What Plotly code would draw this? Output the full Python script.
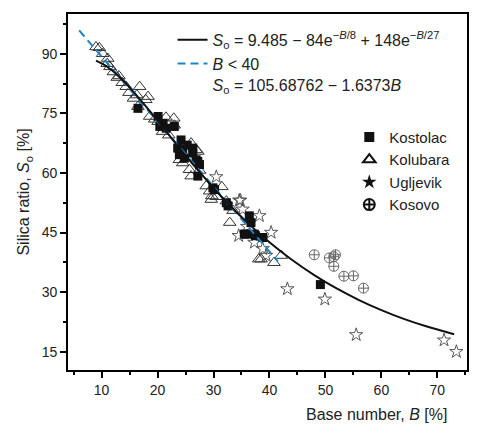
import plotly.graph_objects as go

# ---------------- data ----------------
kolubara_B = [9.0, 9.6, 10.2, 11.1, 11.5, 11.0, 12.1, 12.8, 13.1, 13.7, 14.4, 14.9, 15.7, 16.3,
              16.8, 17.9, 18.3, 16.5, 18.6, 19.5, 20.1, 20.9, 22.9, 23.0, 23.9, 24.5, 25.7, 26.0,
              26.0, 26.9, 27.2, 27.5, 28.7, 29.3, 29.6, 29.7, 30.5, 32.3, 32.9, 33.5, 38.1, 38.5,
              40.8, 42.1, 31.5, 22.0, 21.5]
kolubara_S = [91.7, 91.5, 90.0, 88.8, 86.7, 87.5, 85.4, 84.0, 84.4, 82.7, 81.7, 80.2, 78.75, 79.6,
              81.7, 78.4, 79.2, 76.7, 74.2, 73.5, 72.9, 70.4, 73.75, 72.0, 63.3, 62.5, 60.8, 59.2,
              67.5, 65.8, 65.4, 60.6, 56.7, 55.4, 53.3, 54.2, 54.0, 52.9, 47.5, 50.5, 38.3, 38.3,
              37.4, 39.2, 56.5, 69.5, 74.0]

kostolac_B = [16.5, 20.1, 20.4, 21.0, 21.55, 23.0, 23.6, 23.9, 24.2, 24.8, 26.3, 26.3, 26.9, 27.2,
              27.2, 27.5, 29.9, 30.2, 32.3, 32.6, 35.5, 35.8, 36.4, 36.7, 37.3, 37.5, 38.8, 49.1,
              24.5, 25.3]
kostolac_S = [76.25, 74.2, 71.7, 72.5, 71.25, 71.7, 66.25, 64.6, 68.3, 63.75, 66.25, 65.0, 63.3, 62.9,
              59.2, 62.1, 56.25, 55.8, 52.5, 51.7, 44.6, 44.6, 49.2, 47.5, 44.6, 44.2, 43.75, 31.9,
              66.0, 67.0]

ugljevik_B = [30.5, 34.6, 34.8, 35.2, 34.5, 37.3, 38.2, 38.8, 39.4, 40.3, 43.2, 49.9, 55.5, 71.2,
              73.4, 36.0]
ugljevik_S = [59.0, 53.1, 53.1, 50.85, 44.2, 42.5, 49.2, 40.9, 39.2, 45.0, 30.8, 28.2, 19.25, 17.9,
              15.0, 46.5]

kosovo_B = [48.0, 50.7, 51.5, 51.8, 51.5, 53.3, 55.0, 56.8]
kosovo_S = [39.4, 38.6, 38.9, 39.4, 36.5, 34.0, 34.1, 31.0]

# fitted curve, read at sample points
curve_B = [9, 11, 13, 15, 18, 21, 24, 27, 30, 33, 36, 40, 44, 48, 52, 56, 60, 64, 68, 73]
curve_S = [88.25, 86.72, 84.40, 81.52, 76.61, 71.39, 66.14, 61.06, 56.23, 51.73, 47.56, 42.56,
           38.15, 34.29, 30.92, 28.01, 25.48, 23.28, 21.40, 19.40]

# linear fit for B < 40
lin_B = [6.0, 41.5]
lin_S = [95.86, 37.74]

x_ticks = [10, 20, 30, 40, 50, 60, 70]
y_ticks = [15, 30, 45, 60, 75, 90]

FONT = "Liberation Sans, Arial, Helvetica, sans-serif"
BLUE = "#1d84c6"

fig = go.Figure()

# data traces (no legend)
fig.add_trace(go.Scatter(x=kolubara_B, y=kolubara_S, mode="markers", showlegend=False,
                         marker=dict(symbol="triangle-up-open", size=11, color="#333333",
                                     line=dict(width=1))))
fig.add_trace(go.Scatter(x=ugljevik_B, y=ugljevik_S, mode="markers", showlegend=False,
                         marker=dict(symbol="star-open", size=10, color="#555555",
                                     line=dict(width=1))))
fig.add_trace(go.Scatter(x=kosovo_B, y=kosovo_S, mode="markers", showlegend=False,
                         marker=dict(symbol="circle-cross-open", size=10, color="#666666",
                                     line=dict(width=1))))
fig.add_trace(go.Scatter(x=kostolac_B, y=kostolac_S, mode="markers", showlegend=False,
                         marker=dict(symbol="square", size=9, color="#111111")))

# fit lines
fig.add_trace(go.Scatter(x=lin_B, y=lin_S, mode="lines", showlegend=False,
                         line=dict(color=BLUE, width=2, dash="8px,5px")))
fig.add_trace(go.Scatter(x=curve_B, y=curve_S, mode="lines", line_shape="spline",
                         showlegend=False, line=dict(color="#111111", width=2)))

# legend 1 entries
fig.add_trace(go.Scatter(x=[None], y=[None], mode="lines", legend="legend",
                         name="<i>S</i><sub>o</sub> = 9.485 \u2212 84e<sup>\u2212<i>B</i>/8</sup> + 148e<sup>\u2212<i>B</i>/27</sup>",
                         line=dict(color="#111111", width=2)))
fig.add_trace(go.Scatter(x=[None], y=[None], mode="lines", legend="legend",
                         name="<i>B</i> < 40<br><i>S</i><sub>o</sub> = 105.68762 \u2212 1.6373<i>B</i>",
                         line=dict(color=BLUE, width=2, dash="8px,5px")))

# legend 2 entries
fig.add_trace(go.Scatter(x=[None], y=[None], mode="markers", legend="legend2", name="Kostolac",
                         marker=dict(symbol="square", size=10, color="#111111")))
fig.add_trace(go.Scatter(x=[None], y=[None], mode="markers", legend="legend2", name="Kolubara",
                         marker=dict(symbol="triangle-up-open", size=11, color="#111111",
                                     line=dict(width=2))))
fig.add_trace(go.Scatter(x=[None], y=[None], mode="markers", legend="legend2", name="Ugljevik",
                         marker=dict(symbol="star", size=11, color="#111111")))
fig.add_trace(go.Scatter(x=[None], y=[None], mode="markers", legend="legend2", name="Kosovo",
                         marker=dict(symbol="circle-cross-open", size=11, color="#111111",
                                     line=dict(width=2))))

axis_common = dict(showline=True, linecolor="black", linewidth=1.6, mirror=True,
                   ticks="outside", ticklen=6, tickwidth=1.5, tickcolor="black",
                   showgrid=False, zeroline=False,
                   tickfont=dict(family=FONT, size=14, color="#222222"))

fig.update_layout(
    width=485, height=427,
    margin=dict(l=68, r=18, t=12, b=57),
    paper_bgcolor="white", plot_bgcolor="white",
    font=dict(family=FONT, size=16, color="#222222"),
    xaxis=dict(range=[4, 75.3], tickvals=x_ticks,
               minor=dict(dtick=5, tick0=0, ticks="outside", ticklen=3, tickcolor="black", tickwidth=1.5),
               **axis_common),
    yaxis=dict(range=[10.4, 100], tickvals=y_ticks,
               minor=dict(dtick=7.5, tick0=0, ticks="outside", ticklen=3, tickcolor="black", tickwidth=1.5),
               title=dict(text="Silica ratio, <i>S</i><sub>o</sub> [%]",
                          font=dict(family=FONT, size=16, color="#222222"), standoff=8),
               **axis_common),
    legend=dict(x=0.262, y=0.975, xanchor="left", yanchor="top", bgcolor="rgba(0,0,0,0)",
                font=dict(family=FONT, size=16, color="#222222"), valign="top",
                tracegroupgap=0, itemwidth=30),
    legend2=dict(x=0.705, y=0.70, xanchor="left", yanchor="top", bgcolor="rgba(0,0,0,0)",
                 font=dict(family=FONT, size=15, color="#222222"), itemwidth=30),
    annotations=[dict(text="Base number, <i>B</i> [%]", xref="paper", yref="paper",
                      x=0.955, y=-0.095, xanchor="right", yanchor="top", showarrow=False,
                      font=dict(family=FONT, size=16, color="#222222"))],
)

fig.write_html("out.html")
